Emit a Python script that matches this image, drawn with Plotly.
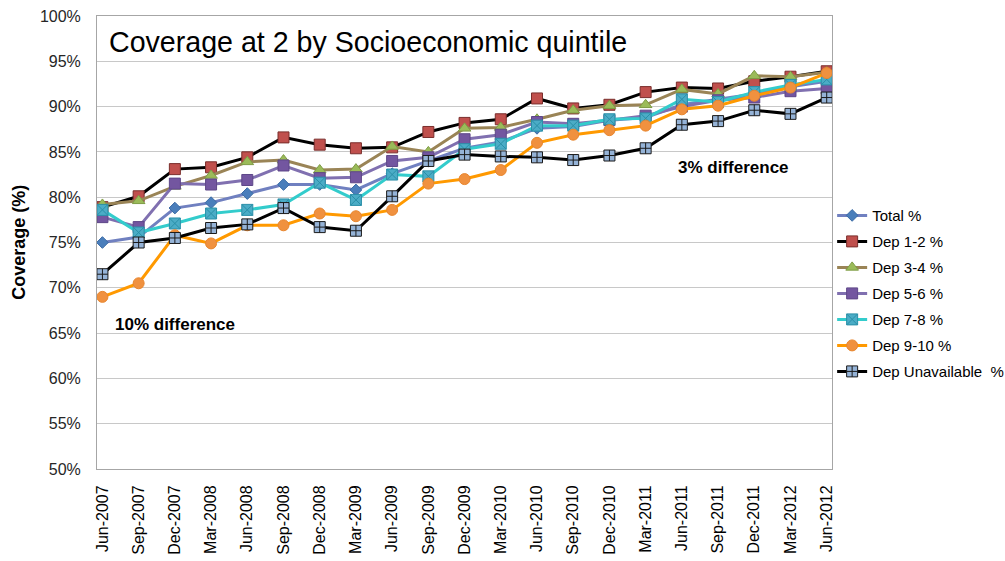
import plotly.graph_objects as go

periods = ["Jun-2007", "Sep-2007", "Dec-2007", "Mar-2008", "Jun-2008", "Sep-2008", "Dec-2008",
           "Mar-2009", "Jun-2009", "Sep-2009", "Dec-2009", "Mar-2010", "Jun-2010", "Sep-2010",
           "Dec-2010", "Mar-2011", "Jun-2011", "Sep-2011", "Dec-2011", "Mar-2012", "Jun-2012"]

total = [75.0, 75.6, 78.8, 79.4, 80.4, 81.4, 81.4, 80.8, 82.6, 84.0, 85.4, 86.1, 87.6, 87.8,
         88.5, 88.8, 90.2, 90.8, 91.4, 92.2, 92.8]
dep12 = [78.9, 80.1, 83.1, 83.3, 84.4, 86.6, 85.8, 85.4, 85.5, 87.2, 88.2, 88.6, 90.9, 89.8,
         90.2, 91.6, 92.1, 92.0, 92.8, 93.3, 93.9]
dep34 = [79.2, 79.6, 81.2, 82.4, 83.9, 84.1, 83.0, 83.1, 85.6, 85.0, 87.6, 87.7, 88.6, 89.6,
         90.1, 90.2, 91.9, 91.4, 93.4, 93.3, 93.8]
dep56 = [77.8, 76.7, 81.5, 81.4, 81.9, 83.5, 82.1, 82.2, 84.0, 84.4, 86.4, 86.9, 88.3, 88.1,
         88.5, 89.0, 90.0, 90.7, 91.0, 91.7, 92.0]
dep78 = [78.6, 76.1, 77.1, 78.2, 78.6, 79.2, 81.6, 79.7, 82.5, 82.3, 85.3, 85.9, 87.9, 87.9,
         88.6, 88.7, 90.8, 90.5, 91.6, 92.4, 93.0]
dep910 = [69.0, 70.5, 75.8, 74.9, 76.9, 76.9, 78.2, 77.9, 78.6, 81.5, 82.0, 83.0, 86.0, 86.9,
          87.4, 87.9, 89.7, 90.1, 91.2, 92.1, 93.7]
depna = [71.5, 75.0, 75.5, 76.6, 77.0, 78.8, 76.7, 76.3, 80.1, 84.0, 84.7, 84.5, 84.4, 84.1,
         84.6, 85.4, 88.0, 88.4, 89.6, 89.2, 91.0]

y_ticks = [50, 55, 60, 65, 70, 75, 80, 85, 90, 95, 100]
y_ticktext = [f"{v}%" for v in y_ticks]

series = [
    ("Total %", total, "#7080C0", dict(symbol="diamond", size=9, color="#4A7EBB",
                                        line=dict(color="#3A6AA5", width=1))),
    ("Dep 1-2 %", dep12, "#000000", dict(symbol="square", size=11, color="#C0504D",
                                          line=dict(color="#7A2E2C", width=1))),
    ("Dep 3-4 %", dep34, "#9A8456", dict(symbol="triangle-up", size=11, color="#9BBB59",
                                          line=dict(color="#7E9C45", width=1))),
    ("Dep 5-6 %", dep56, "#8070B0", dict(symbol="square", size=11, color="#7356A0",
                                          line=dict(color="#5E4788", width=1))),
    ("Dep 7-8 %", dep78, "#33CCCC", dict(symbol="square-x", size=11, color="#4BACC6",
                                          line=dict(color="#2A8FA8", width=1))),
    ("Dep 9-10 %", dep910, "#FF9900", dict(symbol="circle", size=11, color="#F0913F",
                                            line=dict(color="#E8862E", width=1))),
    ("Dep Unavailable  %", depna, "#000000", dict(symbol="square-cross", size=11, color="#95B3D7",
                                                   line=dict(color="#1A1A1A", width=1))),
]

fig = go.Figure()
for i, (name, vals, lc, mk) in enumerate(series):
    fig.add_trace(go.Scatter(
        x=periods, y=vals, name=name, mode="lines+markers",
        line=dict(color=lc, width=3), marker=mk, legendgroup=f"g{i}",
    ))

fig.update_layout(
    width=1005, height=561,
    margin=dict(l=97, r=171, t=16, b=92),
    paper_bgcolor="white", plot_bgcolor="white",
    font=dict(family="Arial, Liberation Sans, sans-serif", size=14, color="#000000"),
    showlegend=True,
    legend=dict(xref="container", yref="container", x=0.828, y=0.645,
                xanchor="left", yanchor="top",
                font=dict(size=15, color="#000000"), tracegroupgap=3.5,
                bgcolor="rgba(0,0,0,0)", itemwidth=30),
    xaxis=dict(type="category", range=[-0.15, 20.15], tickangle=-90, automargin=False,
               tickfont=dict(size=16, color="#000000"), showgrid=False,
               showline=True, linecolor="#A6A6A6", linewidth=1, mirror=True,
               ticks="", ticklen=0, ticklabelstandoff=9),
    yaxis=dict(range=[50, 100], tickvals=y_ticks, ticktext=y_ticktext, automargin=False,
               tickfont=dict(size=16, color="#262626"), showgrid=True, gridcolor="#C8C8C8",
               gridwidth=1, showline=True, linecolor="#A6A6A6", linewidth=1, mirror=True,
               zeroline=False, ticks="", ticklabelstandoff=12),
    annotations=[
        dict(text="<b>Coverage (%)</b>", xref="paper", yref="paper", x=-0.107, y=0.5,
             xanchor="center", yanchor="middle", textangle=-90, showarrow=False,
             font=dict(size=18)),
        dict(text="Coverage at 2 by Socioeconomic quintile", xref="paper", yref="paper",
             x=0.013, y=0.943, xanchor="left", yanchor="middle", showarrow=False,
             font=dict(size=28.6, color="#000000")),
        dict(text="<b>10% difference</b>", xref="x", yref="y", x=0.28, y=66.0,
             xanchor="left", yanchor="middle", showarrow=False, font=dict(size=17)),
        dict(text="<b>3% difference</b>", xref="x", yref="y", x=15.84, y=83.3,
             xanchor="left", yanchor="middle", showarrow=False, font=dict(size=17)),
    ],
)

fig.write_html("out.html")
